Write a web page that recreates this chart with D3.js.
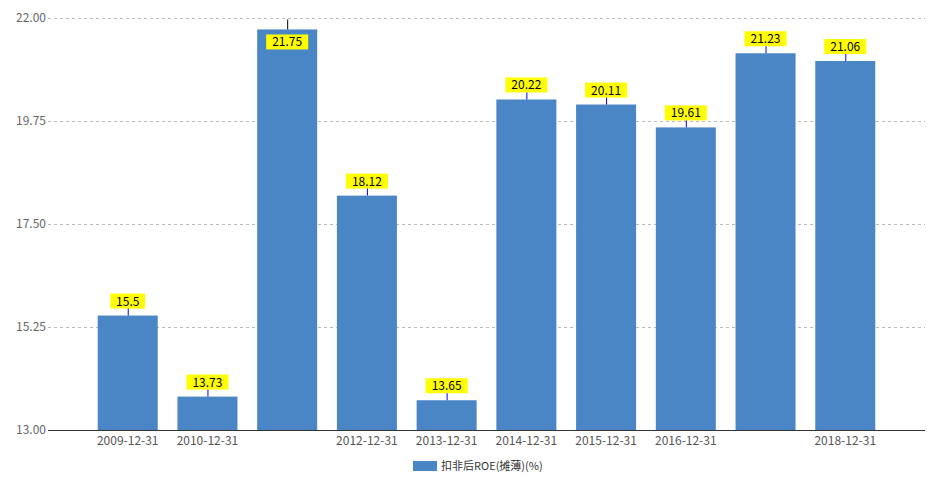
<!DOCTYPE html>
<html><head><meta charset="utf-8">
<script src="https://cdn.jsdelivr.net/npm/d3@7"></script>
<style>body{margin:0;background:#fff;font-family:"Noto Sans CJK SC","DejaVu Sans",sans-serif}</style>
</head><body>
<script>
//Chart data
var categories = ["2009-12-31","2010-12-31","2011-12-31","2012-12-31","2013-12-31","2014-12-31","2015-12-31","2016-12-31","2017-12-31","2018-12-31"];
var shownLabels = ["2009-12-31","2010-12-31","","2012-12-31","2013-12-31","2014-12-31","2015-12-31","2016-12-31","","2018-12-31"];
var roe = [15.5, 13.73, 21.75, 18.12, 13.65, 20.22, 20.11, 19.61, 21.23, 21.06];
var yTicks = [13.00, 15.25, 17.50, 19.75, 22.00];

var W = 932, H = 484;
var svg = d3.select("body").append("svg").attr("width", W).attr("height", H);

var x = d3.scaleLinear().domain([0, 11]).range([48, 925]);
var y = d3.scaleLinear().domain([13, 22]).range([430, 18]);

//Grid lines
svg.append("g").selectAll("line").data(yTicks.slice(1)).enter().append("line")
    .attr("x1", 48).attr("x2", 925)
    .attr("y1", d => y(d) + 0.5).attr("y2", d => y(d) + 0.5)
    .attr("stroke", "#bbb").attr("stroke-dasharray", "3,3");

//Y labels
svg.append("g").selectAll("text").data(yTicks).enter().append("text")
    .attr("x", 46).attr("y", d => y(d) + 4)
    .attr("text-anchor", "end").attr("fill", "#666").style("font-size", "12px")
    .text(d => d.toFixed(2));

//Bars
svg.append("g").selectAll("rect").data(roe).enter().append("rect")
    .attr("x", (d, i) => x(i + 1) - 30).attr("width", 60)
    .attr("y", d => y(d)).attr("height", d => 430 - y(d))
    .attr("fill", "#4a86c5");

//Axis line
svg.append("line").attr("x1", 48).attr("x2", 925).attr("y1", 430.5).attr("y2", 430.5).attr("stroke", "#333");

//X labels
svg.append("g").selectAll("text").data(shownLabels).enter().append("text")
    .attr("x", (d, i) => x(i + 1)).attr("y", 445)
    .attr("text-anchor", "middle").attr("fill", "#555").style("font-size", "12px")
    .text(d => d);

//Value labels
var lab = svg.append("g").selectAll("g").data(roe).enter().append("g");
lab.append("line")
    .attr("x1", (d, i) => x(i + 1) + 0.5).attr("x2", (d, i) => x(i + 1) + 0.5)
    .attr("y1", d => y(d)).attr("y2", d => y(d) > 40 ? y(d) - 8 : y(d) - 10)
    .attr("stroke", d => y(d) > 40 ? "#00f" : "#000");
lab.append("rect")
    .attr("x", (d, i) => x(i + 1) - String(d).length * 3.6 - 3)
    .attr("width", d => String(d).length * 7.2 + 6)
    .attr("y", d => y(d) > 40 ? y(d) - 22 : y(d) + 5)
    .attr("height", 15).attr("fill", "#ffff00");
lab.append("text")
    .attr("x", (d, i) => x(i + 1)).attr("y", d => y(d) > 40 ? y(d) - 10 : y(d) + 17)
    .attr("text-anchor", "middle").style("font-size", "12px").attr("fill", "#000")
    .text(d => d);

//Legend
svg.append("rect").attr("x", 413).attr("y", 461).attr("width", 24).attr("height", 10).attr("fill", "#4a86c5");
svg.append("text").attr("x", 441).attr("y", 470).style("font-size", "11px").attr("fill", "#333").text("扣非后ROE(摊薄)(%)");
</script>
</body></html>
